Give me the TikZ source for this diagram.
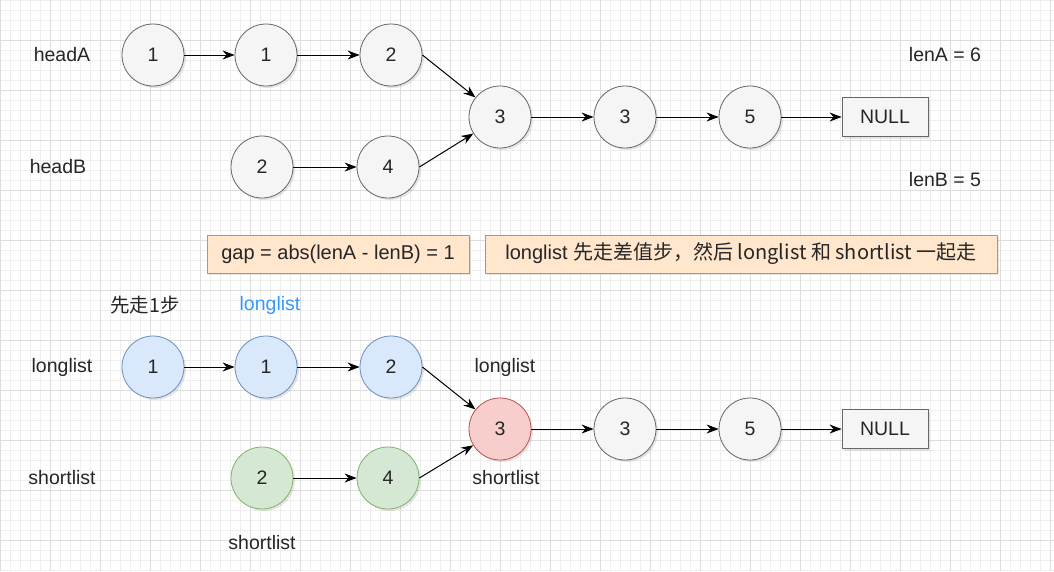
\documentclass[tikz,border=0pt]{standalone}
\usepackage{fontspec}
\setmainfont{Liberation Sans}
\newfontfamily\cjk{Noto Sans CJK SC}
\usetikzlibrary{arrows.meta,shadows}
\definecolor{gfill}{HTML}{F5F5F5}
\definecolor{gdraw}{HTML}{666666}
\definecolor{bfill}{HTML}{DAE8FC}
\definecolor{bdraw}{HTML}{6C8EBF}
\definecolor{grfill}{HTML}{D5E8D4}
\definecolor{grdraw}{HTML}{82B366}
\definecolor{rfill}{HTML}{F8CECC}
\definecolor{rdraw}{HTML}{B85450}
\definecolor{ofill}{HTML}{FFE6CC}
\definecolor{odraw}{HTML}{D79B00}
\definecolor{bluetxt}{HTML}{3399FF}
\definecolor{minorgrid}{HTML}{EEEEEE}
\definecolor{majorgrid}{HTML}{DDDDDD}
\tikzset{
  txt/.style={font=\fontsize{19.5}{23}\selectfont, text=black!85},
  shad/.style={drop shadow={opacity=0.2, shadow xshift=2pt, shadow yshift=-2pt}},
  nd/.style={circle, minimum size=62pt, inner sep=0pt, line width=0.8pt, txt, shad},
  gnode/.style={nd, fill=gfill, draw=gdraw},
  bnode/.style={nd, fill=bfill, draw=bdraw},
  grnode/.style={nd, fill=grfill, draw=grdraw},
  rnode/.style={nd, fill=rfill, draw=rdraw},
  nullbox/.style={rectangle, minimum width=86pt, minimum height=39pt, fill=gfill, draw=gdraw, line width=0.8pt, txt, shad},
  obox/.style={rectangle, minimum height=38pt, fill=ofill, draw=odraw, line width=1pt, font=\fontsize{20}{24}\selectfont, text=black!85, inner xsep=8pt, shad},
  lbl/.style={txt},
  arr/.style={-{Stealth[length=12pt,width=9pt]}, line width=1pt, black},
}
\begin{document}
\begin{tikzpicture}[x=1pt,y=-1pt]
\useasboundingbox (0,0) rectangle (1054,571);
\fill[white] (0,0) rectangle (1054,571);
\foreach \x in {0,10,...,1050} \draw[minorgrid, line width=0.6pt] (\x,0) -- (\x,571);
\foreach \y in {0,10,...,570} \draw[minorgrid, line width=0.6pt] (0,\y) -- (1054,\y);
\foreach \x in {0,50,...,1050} \draw[majorgrid, line width=0.8pt] (\x,0) -- (\x,571);
\foreach \y in {40,90,...,570} \draw[majorgrid, line width=0.8pt] (0,\y) -- (1054,\y);

% top
\node[lbl] (headA) at (62,55) {headA};
\node[lbl] (headB) at (58,167) {headB};
\node[lbl] (lenA) at (945,55) {lenA = 6};
\node[lbl] (lenB) at (945,180) {lenB = 5};
\node[gnode] (a1) at (153,55) {1};
\node[gnode] (a2) at (266,55) {1};
\node[gnode] (a3) at (391,55) {2};
\node[gnode] (b1) at (262,167) {2};
\node[gnode] (b2) at (388,167) {4};
\node[gnode] (c1) at (500,117) {3};
\node[gnode] (c2) at (625,117) {3};
\node[gnode] (c3) at (750,117) {5};
\node[nullbox] (n1) at (885,117) {NULL};
\draw[arr] (a1) -- (a2);
\draw[arr] (a2) -- (a3);
\draw[arr] (a3.east) -- (c1);
\draw[arr] (b1) -- (b2);
\draw[arr] (b2.east) -- (c1);
\draw[arr] (c1) -- (c2);
\draw[arr] (c2) -- (c3);
\draw[arr] (c3) -- (n1);

% boxes
\node[obox, minimum width=262pt] (gap) at (338,254) {gap = abs(lenA - lenB) = 1};
\node[obox, minimum width=512pt] (desc) at (741,254) {longlist \cjk{先走差值步，然后} longlist \cjk{和} shortlist \cjk{一起走}};

% bottom
\node[lbl] (first) at (145,305) {\cjk{先走}1\cjk{步}};
\node[lbl, text=bluetxt] (ll1) at (270,305) {longlist};
\node[lbl] (ll0) at (62,367) {longlist};
\node[lbl] (sl0) at (62,478) {shortlist};
\node[lbl] (sl1) at (262,543) {shortlist};
\node[lbl] (ll2) at (505,367) {longlist};
\node[lbl] (sl2) at (506,478) {shortlist};
\node[bnode] (d1) at (153,367) {1};
\node[bnode] (d2) at (266,367) {1};
\node[bnode] (d3) at (391,367) {2};
\node[grnode] (e1) at (262,478) {2};
\node[grnode] (e2) at (388,478) {4};
\node[rnode] (f1) at (500,429) {3};
\node[gnode] (f2) at (625,429) {3};
\node[gnode] (f3) at (750,429) {5};
\node[nullbox] (n2) at (885,429) {NULL};
\draw[arr] (d1) -- (d2);
\draw[arr] (d2) -- (d3);
\draw[arr] (d3.east) -- (f1);
\draw[arr] (e1) -- (e2);
\draw[arr] (e2.east) -- (f1);
\draw[arr] (f1) -- (f2);
\draw[arr] (f2) -- (f3);
\draw[arr] (f3) -- (n2);
\end{tikzpicture}
\end{document}
